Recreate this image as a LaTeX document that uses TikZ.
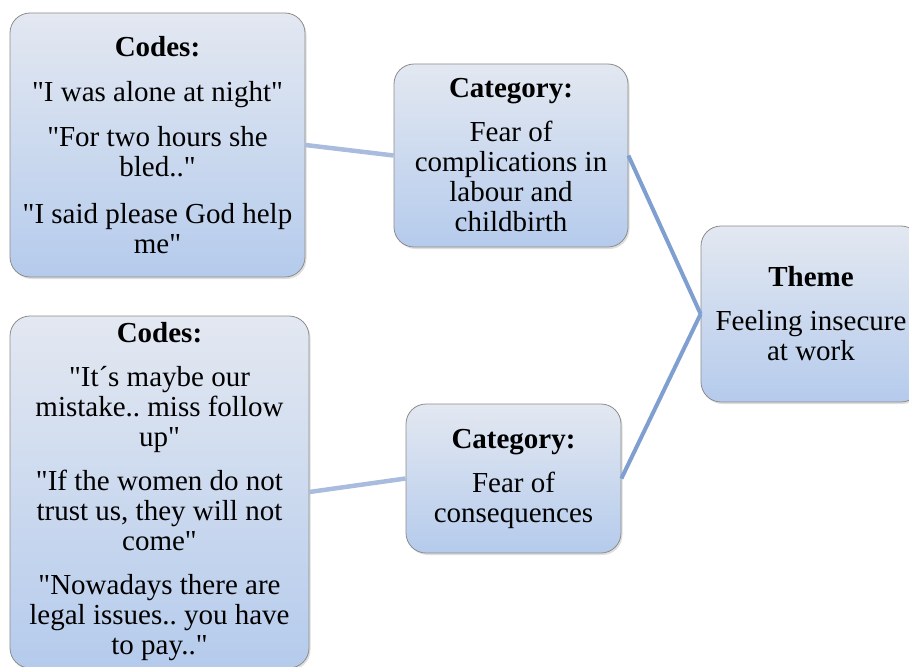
\documentclass[tikz,border=0pt]{standalone}
\usepackage{fontspec}
\setmainfont{Liberation Serif}[Ligatures=TeXOff]
\usetikzlibrary{shadows}
\frenchspacing
\definecolor{boxtop}{RGB}{227,232,241}
\definecolor{boxbottom}{RGB}{181,203,236}
\definecolor{boxline}{RGB}{140,140,140}
\definecolor{linklight}{RGB}{169,188,221}
\definecolor{linkdark}{RGB}{127,159,208}
\tikzset{
  stagebox/.style={draw=boxline, line width=0.8pt, rounded corners=20pt,
    top color=boxtop, bottom color=boxbottom, align=center, inner sep=4pt,
    font=\fontsize{29}{30}\selectfont,
    drop shadow={shadow xshift=1.5pt, shadow yshift=-2pt, opacity=0.25}},
  link/.style={line width=4.5pt, draw=linklight},
  linkright/.style={line width=4pt, draw=linkdark}
}
\begin{document}
\begin{tikzpicture}[x=1pt,y=-1pt]
    \useasboundingbox (0,0) rectangle (909,666);
    %Rounded Rect codes upper
    \node (codesA) [stagebox, minimum width=295pt, minimum height=264pt] at (157.5,145)
      {\textbf{Codes:}\\[15pt] "I was alone at night"\\[15pt] "For two hours she\\ bled.."\\[17pt] "I said please God help\\ me"};
    %Rounded Rect category upper
    \node (catA) [stagebox, minimum width=234pt, minimum height=183pt] at (511,155.5)
      {\textbf{Category:}\\[14pt] Fear of\\ complications in\\ labour and\\ childbirth};
    %Rounded Rect theme
    \node (theme) [stagebox, minimum width=220pt, minimum height=176pt] at (811,314)
      {\textbf{Theme}\\[14pt] Feeling insecure\\ at work};
    %Rounded Rect codes lower
    \node (codesB) [stagebox, minimum width=299pt, minimum height=352pt] at (159.5,492)
      {\textbf{Codes:}\\[14pt] "It´s maybe our\\ mistake.. miss follow\\ up"\\[14pt] "If the women do not\\ trust us, they will not\\ come"\\[14pt] "Nowadays there are\\ legal issues.. you have\\ to pay.."};
    %Rounded Rect category lower
    \node (catB) [stagebox, minimum width=215pt, minimum height=149pt] at (513.5,478.5)
      {\textbf{Category:}\\[14pt] Fear of\\ consequences};

    % Connectors
    \draw [link] (codesA.east) -- (catA.west);
    \draw [link] (codesB.east) -- (catB.west);
    \draw [linkright] (catA.east) -- (theme.west);
    \draw [linkright] (catB.east) -- (theme.west);
\end{tikzpicture}
\end{document}
